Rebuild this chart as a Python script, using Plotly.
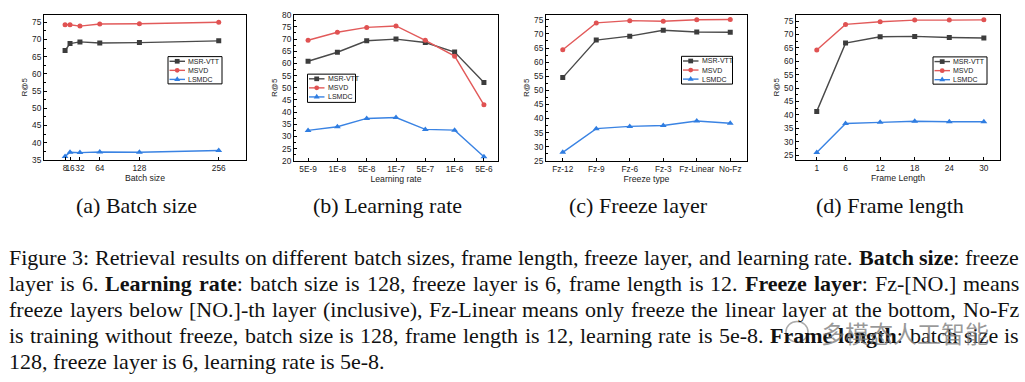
import plotly.graph_objects as go

W, H = 1025, 382

# ---------------- data ----------------
batch_sizes = [8, 16, 32, 64, 128, 256]
bs_msrvtt = [66.8, 68.8, 69.3, 69.0, 69.1, 69.6]
bs_msvd = [74.3, 74.3, 73.9, 74.5, 74.6, 75.0]
bs_lsmdc = [36.0, 37.2, 37.1, 37.3, 37.2, 37.7]

lr_labels = ["5E-9", "1E-8", "5E-8", "1E-7", "5E-7", "1E-6", "5E-6"]
lr_msrvtt = [60.9, 64.6, 69.3, 70.0, 68.6, 64.7, 52.2]
lr_msvd = [69.5, 72.8, 74.8, 75.4, 69.5, 63.0, 43.0]
lr_lsmdc = [32.5, 34.0, 37.4, 37.8, 32.9, 32.6, 21.7]

fz_labels = ["Fz-12", "Fz-9", "Fz-6", "Fz-3", "Fz-Linear", "No-Fz"]
fz_msrvtt = [54.5, 67.8, 69.2, 71.3, 70.7, 70.6]
fz_msvd = [64.4, 73.9, 74.7, 74.5, 75.0, 75.1]
fz_lsmdc = [28.0, 36.4, 37.2, 37.5, 39.1, 38.3]

frame_lengths = [1, 6, 12, 18, 24, 30]
fl_msrvtt = [41.3, 66.8, 69.2, 69.3, 68.9, 68.7]
fl_msvd = [64.2, 73.8, 74.8, 75.4, 75.4, 75.5]
fl_lsmdc = [25.9, 36.8, 37.2, 37.6, 37.4, 37.4]

series_names = ["MSR-VTT", "MSVD", "LSMDC"]
x_titles = ["Batch size", "Learning rate", "Freeze type", "Frame Length"]
subcaptions = ["(a) Batch size", "(b) Learning rate", "(c) Freeze layer", "(d) Frame length"]

caption_lines = [
    "Figure 3: Retrieval results on different batch sizes, frame length, freeze layer, and learning rate. **Batch size**: freeze",
    "layer is 6. **Learning rate**: batch size is 128, freeze layer is 6, frame length is 12. **Freeze layer**: Fz-[NO.] means",
    "freeze layers below [NO.]-th layer (inclusive), Fz-Linear means only freeze the linear layer at the bottom, No-Fz",
    "is training without freeze, batch size is 128, frame length is 12, learning rate is 5e-8. **Frame length**: batch size is",
    "128, freeze layer is 6, learning rate is 5e-8.",
]
watermark = "多模态人工智能"

# ---------------- style ----------------
COLORS = ["#3c3c3c", "#e05252", "#2f7de1"]
LINE_COLORS = ["#4a4a4a", "#e25a5a", "#3a83e3"]
SYMBOLS = ["square", "circle", "triangle-up"]
MSIZE = [5, 5, 6]
SANS = "Liberation Sans"
SERIF = "Liberation Serif"


def px(x):
    return x / W


def py(y):
    return 1 - y / H


# panel geometry in pixels: (x0, x1, y0, y1)
panels = [(44, 246, 10, 159), (294, 498, 10, 160), (546, 747, 10, 160), (796, 1000, 10, 159)]
xranges = [[-26, 300], [-0.48, 6.48], [-0.5, 5.5], [-2.6, 32.8]]
yranges = [[35, 77.2], [20, 80], [25, 76.8], [23.2, 77.4]]
ytick_start = [35, 20, 25, 25]
legend_boxes = [(168, 53, 54, 28), (307.5, 71, 48, 29), (681.5, 52.7, 51, 28.5), (933, 53.3, 54, 28)]
subcap_x = [136, 387, 638, 890]

panel_x = [batch_sizes, lr_labels, fz_labels, frame_lengths]
panel_y = [
    [bs_msrvtt, bs_msvd, bs_lsmdc],
    [lr_msrvtt, lr_msvd, lr_lsmdc],
    [fz_msrvtt, fz_msvd, fz_lsmdc],
    [fl_msrvtt, fl_msvd, fl_lsmdc],
]

fig = go.Figure()
shapes = []
annotations = []

for i in range(4):
    xa = "x" if i == 0 else f"x{i+1}"
    ya = "y" if i == 0 else f"y{i+1}"
    for s in range(3):
        fig.add_trace(go.Scatter(
            x=panel_x[i], y=panel_y[i][s], mode="lines+markers", name=series_names[s],
            xaxis=xa, yaxis=ya, showlegend=False,
            line=dict(color=LINE_COLORS[s], width=1.4),
            marker=dict(symbol=SYMBOLS[s], size=MSIZE[s], color=COLORS[s], line=dict(width=0)),
        ))
    x0, x1, y0, y1 = panels[i]
    axis_common = dict(showline=True, linecolor="black", linewidth=1, mirror=True,
                       ticks="inside", ticklen=3, tickcolor="black", showgrid=False,
                       zeroline=False, tickfont=dict(family=SANS, size=8.3, color="#222"))
    xk = "xaxis" if i == 0 else f"xaxis{i+1}"
    yk = "yaxis" if i == 0 else f"yaxis{i+1}"
    xax = dict(axis_common, domain=[px(x0), px(x1)], anchor=ya, range=xranges[i], tickangle=0,
               title=dict(text=x_titles[i], font=dict(family=SANS, size=8.7, color="#222"), standoff=3))
    if i in (0, 3):
        xax.update(type="linear", tickmode="array", tickvals=panel_x[i],
                   ticktext=[str(v) for v in panel_x[i]])
    else:
        xax.update(type="category")
    yax = dict(axis_common, domain=[py(y1), py(y0)], anchor=xa, range=yranges[i],
               tickmode="linear", tick0=ytick_start[i], dtick=5,
               minor=dict(ticks="inside", ticklen=2, tickcolor="black", dtick=2.5, tick0=ytick_start[i]),
               title=dict(text="R@5", font=dict(family=SANS, size=8, color="#222"), standoff=3))
    fig.layout[xk] = xax
    fig.layout[yk] = yax

    # manual compact legend
    lx, ly, lw, lh = legend_boxes[i]
    shapes.append(dict(type="rect", xref="paper", yref="paper", x0=px(lx), x1=px(lx + lw),
                       y0=py(ly + lh), y1=py(ly), line=dict(color="black", width=1),
                       fillcolor="white", layer="above"))
    for s in range(3):
        ry = ly + 4.8 + s * 9.3
        shapes.append(dict(type="line", xref="paper", yref="paper", x0=px(lx + 1.5), x1=px(lx + 17),
                           y0=py(ry), y1=py(ry), line=dict(color=LINE_COLORS[s], width=1.4), layer="above"))
        cx = lx + 9.2
        r = 2.4
        if s == 0:
            shapes.append(dict(type="rect", xref="paper", yref="paper", x0=px(cx - r), x1=px(cx + r),
                               y0=py(ry + r), y1=py(ry - r), line=dict(width=0),
                               fillcolor=COLORS[s], layer="above"))
        elif s == 1:
            shapes.append(dict(type="circle", xref="paper", yref="paper", x0=px(cx - r), x1=px(cx + r),
                               y0=py(ry + r), y1=py(ry - r), line=dict(width=0),
                               fillcolor=COLORS[s], layer="above"))
        else:
            path = (f"M{px(cx - 3)},{py(ry + 1.6)} L{px(cx + 3)},{py(ry + 1.6)} "
                    f"L{px(cx)},{py(ry - 3.3)} Z")
            shapes.append(dict(type="path", xref="paper", yref="paper", path=path, line=dict(width=0),
                               fillcolor=COLORS[s], layer="above"))
        annotations.append(dict(text=series_names[s], xref="paper", yref="paper", x=px(lx + 19),
                                y=py(ry), xanchor="left", yanchor="middle", showarrow=False,
                                borderpad=0, font=dict(family=SANS, size=7, color="#222")))

    annotations.append(dict(text=subcaptions[i], xref="paper", yref="paper", x=px(subcap_x[i]),
                            y=py(206), xanchor="center", yanchor="middle", showarrow=False,
                            font=dict(family=SERIF, size=22, color="#111")))

# ---------------- justified caption ----------------
REG = {' ': 250, 'a': 444, 'b': 500, 'c': 444, 'd': 500, 'e': 444, 'f': 333, 'g': 500, 'h': 500,
       'i': 278, 'j': 278, 'k': 500, 'l': 278, 'm': 778, 'n': 500, 'o': 500, 'p': 500, 'q': 500,
       'r': 333, 's': 389, 't': 278, 'u': 500, 'v': 500, 'w': 722, 'x': 500, 'y': 500, 'z': 444,
       'A': 722, 'B': 667, 'C': 667, 'D': 722, 'E': 611, 'F': 556, 'G': 722, 'H': 722, 'I': 333,
       'L': 611, 'M': 889, 'N': 722, 'O': 722, 'P': 556, 'R': 667, 'S': 556, 'T': 611,
       ',': 250, '.': 250, ':': 278, '-': 333, '(': 333, ')': 333, '[': 333, ']': 333}
BOLD = {' ': 250, 'a': 500, 'b': 556, 'c': 444, 'd': 556, 'e': 444, 'f': 333, 'g': 500, 'h': 556,
        'i': 278, 'k': 556, 'l': 278, 'm': 833, 'n': 556, 'o': 500, 'p': 556, 'r': 444, 's': 389,
        't': 333, 'u': 556, 'y': 500, 'z': 444, 'B': 667, 'F': 611, 'L': 667, 'S': 556, ':': 333}
FS = 22
CAP_X0, CAP_X1 = 8.3, 1018.0
cap_y = [259.5, 286.1, 312.7, 339.3, 365.9]


def parse_words(line):
    words = []
    bold = False
    for tok in line.split(" "):
        parts = tok.split("**")
        segs = []
        for k, p in enumerate(parts):
            if k > 0:
                bold = not bold
            if p:
                segs.append((p, bold))
        words.append(segs)
    return words


def seg_w(text, bold):
    tbl = BOLD if bold else REG
    return sum(tbl.get(c, REG.get(c, 500)) for c in text) / 1000 * FS


for li, line in enumerate(caption_lines):
    words = parse_words(line)
    widths = [sum(seg_w(t, b) for t, b in w) for w in words]
    last = li == len(caption_lines) - 1
    if last:
        gap = 250 / 1000 * FS
    else:
        gap = (CAP_X1 - CAP_X0 - sum(widths)) / (len(words) - 1)
    x = CAP_X0
    for w, wd in zip(words, widths):
        txt = "".join(f"<b>{t}</b>" if b else t for t, b in w)
        annotations.append(dict(text=txt, xref="paper", yref="paper", x=px(x), y=py(cap_y[li]),
                                xanchor="left", yanchor="middle", showarrow=False, borderpad=0,
                                font=dict(family=SERIF, size=FS, color="#111")))
        x += wd + gap

# watermark overlay (semi-transparent, over the caption like in the source image)
shapes.append(dict(type="rect", xref="paper", yref="paper", x0=px(780), x1=px(995),
                   y0=py(349), y1=py(324), line=dict(width=0),
                   fillcolor="rgba(255,255,255,0.45)", layer="above"))
shapes.append(dict(type="circle", xref="paper", yref="paper", x0=px(786), x1=px(808),
                   y0=py(346), y1=py(325), line=dict(color="rgba(150,150,150,0.8)", width=1.5),
                   fillcolor="rgba(255,255,255,0.6)", layer="above"))
annotations.append(dict(text=watermark, xref="paper", yref="paper", x=px(905), y=py(336),
                        xanchor="center", yanchor="middle", showarrow=False,
                        font=dict(family="Noto Sans CJK SC", size=24, color="rgba(120,120,120,0.75)")))

fig.update_layout(
    width=W, height=H, margin=dict(l=0, r=0, t=0, b=0),
    paper_bgcolor="white", plot_bgcolor="white",
    shapes=shapes, annotations=annotations, showlegend=False,
)

fig.write_html("out.html", config={"displayModeBar": False},
               post_script="document.body.style.margin='0';document.body.style.padding='0';")
